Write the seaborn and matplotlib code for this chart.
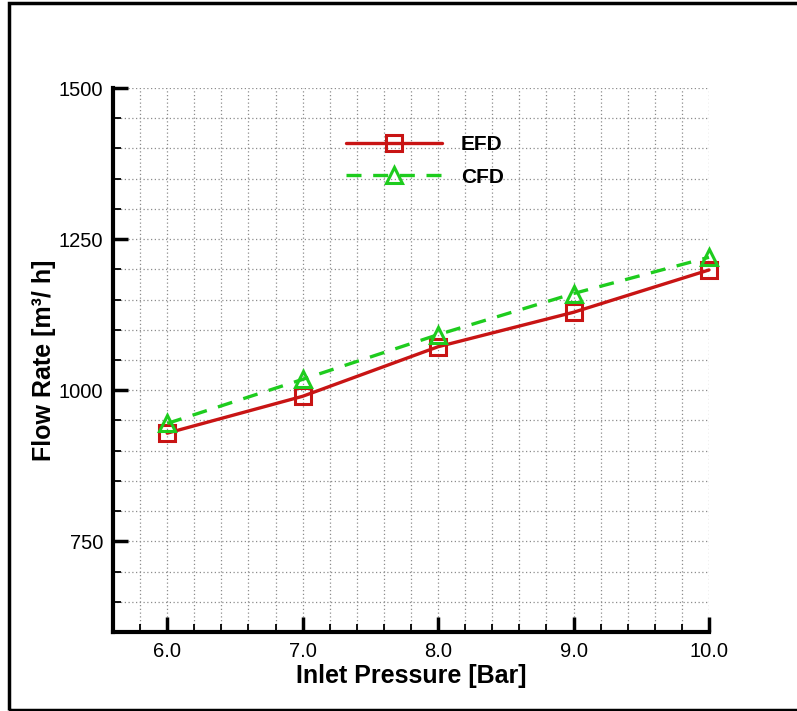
import numpy as np
import pandas as pd
import matplotlib
matplotlib.use("Agg")
import matplotlib.pyplot as plt
from matplotlib.patches import Rectangle
from matplotlib.ticker import MultipleLocator, FormatStrFormatter
import seaborn as sns

# data
pressure = [6.0, 7.0, 8.0, 9.0, 10.0]
efd = [929, 990, 1072, 1129, 1199]
cfd = [945, 1018, 1092, 1160, 1220]

sns.set_style("ticks")
plt.rcParams['font.family'] = ['Liberation Sans', 'DejaVu Sans']
plt.rcParams['text.color'] = 'black'
plt.rcParams['axes.labelcolor'] = 'black'
plt.rcParams['xtick.color'] = 'black'
plt.rcParams['ytick.color'] = 'black'
plt.rcParams['axes.edgecolor'] = 'black'

df = pd.DataFrame({"Pressure": pressure, "EFD": efd, "CFD": cfd})

fig = plt.figure(figsize=(7.97, 7.11), dpi=100)
ax = fig.add_axes([0.1418, 0.1111, 0.7478, 0.7651])

sns.lineplot(data=df, x="Pressure", y="EFD", ax=ax, color="#c81414",
             marker="s", markersize=11, markerfacecolor="none",
             markeredgecolor="#c81414", markeredgewidth=2.2,
             linewidth=2.4, label="EFD", clip_on=False, zorder=5)
sns.lineplot(data=df, x="Pressure", y="CFD", ax=ax, color="#1ecc1e",
             marker="^", markersize=12, markerfacecolor="none",
             markeredgecolor="#1ecc1e", markeredgewidth=2.2,
             linewidth=2.4, linestyle=(0, (4.5, 3.5)), label="CFD",
             clip_on=False, zorder=5)

ax.set_xlim(5.6, 10.0)
ax.set_ylim(600, 1500)
ax.xaxis.set_major_locator(MultipleLocator(1.0))
ax.xaxis.set_minor_locator(MultipleLocator(0.2))
ax.yaxis.set_major_locator(MultipleLocator(250))
ax.yaxis.set_minor_locator(MultipleLocator(50))
ax.xaxis.set_major_formatter(FormatStrFormatter("%.1f"))

ax.grid(which="both", color="#8c8c8c", linestyle=(0, (1, 2)), linewidth=0.9)
ax.set_axisbelow(True)

sns.despine(ax=ax)
for s in ["left", "bottom"]:
    ax.spines[s].set_linewidth(3)
ax.tick_params(which="major", direction="in", length=11, width=2.5,
               labelsize=14.5, pad=7)
ax.tick_params(which="minor", direction="in", length=6, width=1.3)

ax.set_xlabel("Inlet Pressure [Bar]", fontsize=18, fontweight="bold", labelpad=2)
ax.set_ylabel("Flow Rate [m\u00b3/ h]", fontsize=18, fontweight="bold", labelpad=2)

leg = ax.legend(loc="upper left", bbox_to_anchor=(0.36, 0.948), frameon=False,
                handlelength=4.6, labelspacing=0.65, handletextpad=0.9,
                prop={"weight": "bold", "size": 15})

# outer frame around the figure
fig.patches.append(Rectangle((0.0113, 0.0014), 1.0, 0.9944, transform=fig.transFigure,
                             fill=False, edgecolor="black", linewidth=2.5))

fig.savefig("out.png", dpi=100)
